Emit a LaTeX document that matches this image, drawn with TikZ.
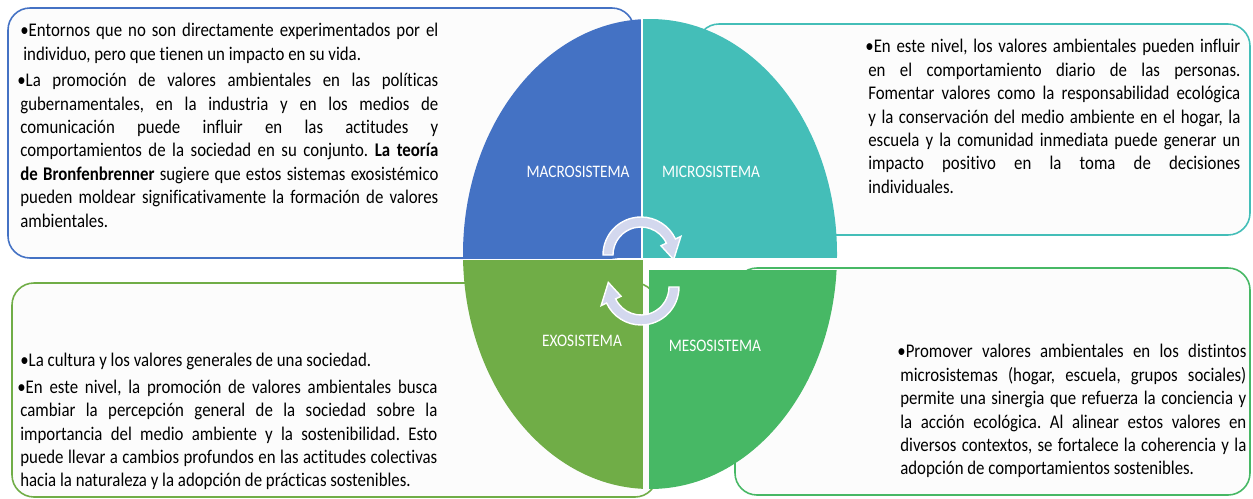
\documentclass[tikz,border=0pt]{standalone}
\usepackage{fontspec}
\setmainfont{Carlito}[FakeStretch=0.87, Ligatures=NoCommon]
\usepackage{tikz}
\usetikzlibrary{positioning}
\definecolor{macroblue}{HTML}{4472C4}
\definecolor{microteal}{HTML}{44BEB8}
\definecolor{exogreen}{HTML}{70AD47}
\definecolor{mesogreen}{HTML}{47B865}
\definecolor{cyclefill}{HTML}{D3D8EE}
\definecolor{boxfill}{HTML}{FCFCFC}
\tikzstyle{infobox} = [rounded corners=4.4mm, line width=0.9pt, fill=boxfill]
\tikzstyle{infotext} = [anchor=north west, inner sep=0pt, align=justify, font=\fontsize{11}{13.3}\selectfont\frenchspacing]
\tikzstyle{quadlabel} = [text=white, font=\fontsize{10}{12}\selectfont]
\tikzstyle{cyclearrow} = [fill=cyclefill, draw=white, line width=0.8pt]
\newcommand{\sysbullet}{\par\vspace{1.8pt}\noindent\leftskip=1.7pt\hspace*{-1.7pt}\textbullet}

\begin{document}
\begin{tikzpicture}[x=0.2mm, y=0.2mm]
\useasboundingbox (0,0) rectangle (1253,498);

\draw [infobox, draw=macroblue] (8,240) rectangle (634,490);
\draw [infobox, draw=microteal] (697,263) rectangle (1250,474);
\draw [infobox, draw=exogreen] (12,1) rectangle (657,215);
\draw [infobox, draw=mesogreen] (735,3) rectangle (1250,230);

\begin{scope}
\clip (650,244) ellipse [x radius=187, y radius=235];
\fill [macroblue] (440,240) rectangle (641,498);
\fill [microteal] (643,240) rectangle (860,498);
\fill [exogreen] (440,0) rectangle (643,238);
\fill [mesogreen] (649,0) rectangle (860,228);
\end{scope}

\node (macro) [quadlabel] at (578,326) {MACROSISTEMA};
\node (micro) [quadlabel] at (711,326) {MICROSISTEMA};
\node (exo) [quadlabel] at (582,157) {EXOSISTEMA};
\node (meso) [quadlabel] at (715,152) {MESOSISTEMA};

\begin{scope}[shift={(641,243)}]
\draw [cyclearrow] (180:38) arc [start angle=180, end angle=25, radius=38] -- (25:44) -- (-8:33) -- (25:22) -- (25:28) arc [start angle=25, end angle=180, radius=28] -- cycle;
\end{scope}
\begin{scope}[shift={(641,211)}]
\draw [cyclearrow] (0:38) arc [start angle=0, end angle=-155, radius=38] -- (-155:44) -- (172:33) -- (-155:22) -- (-155:28) arc [start angle=-155, end angle=0, radius=28] -- cycle;
\end{scope}

\node (macrotext) [infotext, text width=83.6mm] at (20,488) {\sysbullet Entornos que no son directamente experimentados por el\linebreak individuo, pero que tienen un impacto en su vida.
\sysbullet La promoción de valores ambientales en las políticas\linebreak gubernamentales, en la industria y en los medios de\linebreak comunicación puede influir en las actitudes y\linebreak comportamientos de la sociedad en su conjunto. \textbf{La teoría\linebreak de Bronfenbrenner} sugiere que estos sistemas exosistémico\linebreak pueden moldear significativamente la formación de valores\linebreak ambientales.};
\node (microtext) [infotext, text width=74.4mm] at (868,472) {\sysbullet En este nivel, los valores ambientales pueden influir\linebreak en el comportamiento diario de las personas.\linebreak Fomentar valores como la responsabilidad ecológica\linebreak y la conservación del medio ambiente en el hogar, la\linebreak escuela y la comunidad inmediata puede generar un\linebreak impacto positivo en la toma de decisiones\linebreak individuales.};
\node (exotext) [infotext, text width=83.4mm] at (20,158) {\sysbullet La cultura y los valores generales de una sociedad.
\sysbullet En este nivel, la promoción de valores ambientales busca\linebreak cambiar la percepción general de la sociedad sobre la\linebreak importancia del medio ambiente y la sostenibilidad. Esto\linebreak puede llevar a cambios profundos en las actitudes colectivas\linebreak hacia la naturaleza y la adopción de prácticas sostenibles.};
\node (mesotext) [infotext, text width=69.2mm] at (900,167) {\sysbullet Promover valores ambientales en los distintos\linebreak microsistemas (hogar, escuela, grupos sociales)\linebreak permite una sinergia que refuerza la conciencia y\linebreak la acción ecológica. Al alinear estos valores en\linebreak diversos contextos, se fortalece la coherencia y la\linebreak adopción de comportamientos sostenibles.};
\end{tikzpicture}
\end{document}
